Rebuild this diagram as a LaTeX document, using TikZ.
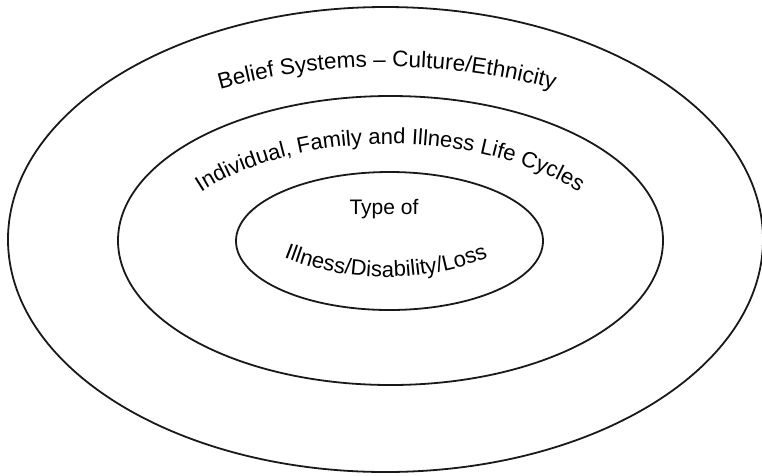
\documentclass[tikz,border=0pt]{standalone}
\usepackage{fontspec}
\setmainfont{Liberation Sans}
\usetikzlibrary{shapes.geometric,decorations.text}
\tikzset{
  ring/.style={draw=black!90, ellipse, line width=1.8pt, inner sep=0pt},
  arctext/.style={decorate, decoration={text along path, text align=center, text={#1}}}
}
\newcommand{\lblfont}{\fontsize{21}{25}\selectfont}
\newcommand{\arcfont}{\fontsize{22.5}{26}\selectfont}
\newcommand{\arcfontb}{\fontsize{22}{26}\selectfont}
\begin{document}
\begin{tikzpicture}[x=1pt,y=1pt]
\useasboundingbox (0,0) rectangle (762,-475);
\node[ring, minimum width=755pt, minimum height=465pt] (outer) at (385.5,-239.5) {};
\node[ring, minimum width=545pt, minimum height=289pt] (middle) at (390.5,-240.5) {};
\node[ring, minimum width=307pt, minimum height=138pt] (inner) at (389.5,-241) {};
\node[anchor=base, inner sep=0pt, font=\lblfont] (typeof) at (384,-214) {Type of};
\begin{scope}[shift={(387,-240)}]
\path[arctext={|\arcfont|Belief Systems – Culture/Ethnicity}] (125:340 and 173) arc[start angle=125, end angle=55, x radius=340, y radius=173];
\end{scope}
\begin{scope}[shift={(390,-280)}]
\path[arctext={|\arcfontb|Individual, Family and Illness Life Cycles}] (170:247 and 136) arc[start angle=170, end angle=10, x radius=247, y radius=136];
\end{scope}
\begin{scope}[shift={(386,1)}]
\path[arctext={|\arcfontb|Illness/Disability/Loss}] (230:278) arc[start angle=230, end angle=310, radius=278];
\end{scope}
\end{tikzpicture}
\end{document}
